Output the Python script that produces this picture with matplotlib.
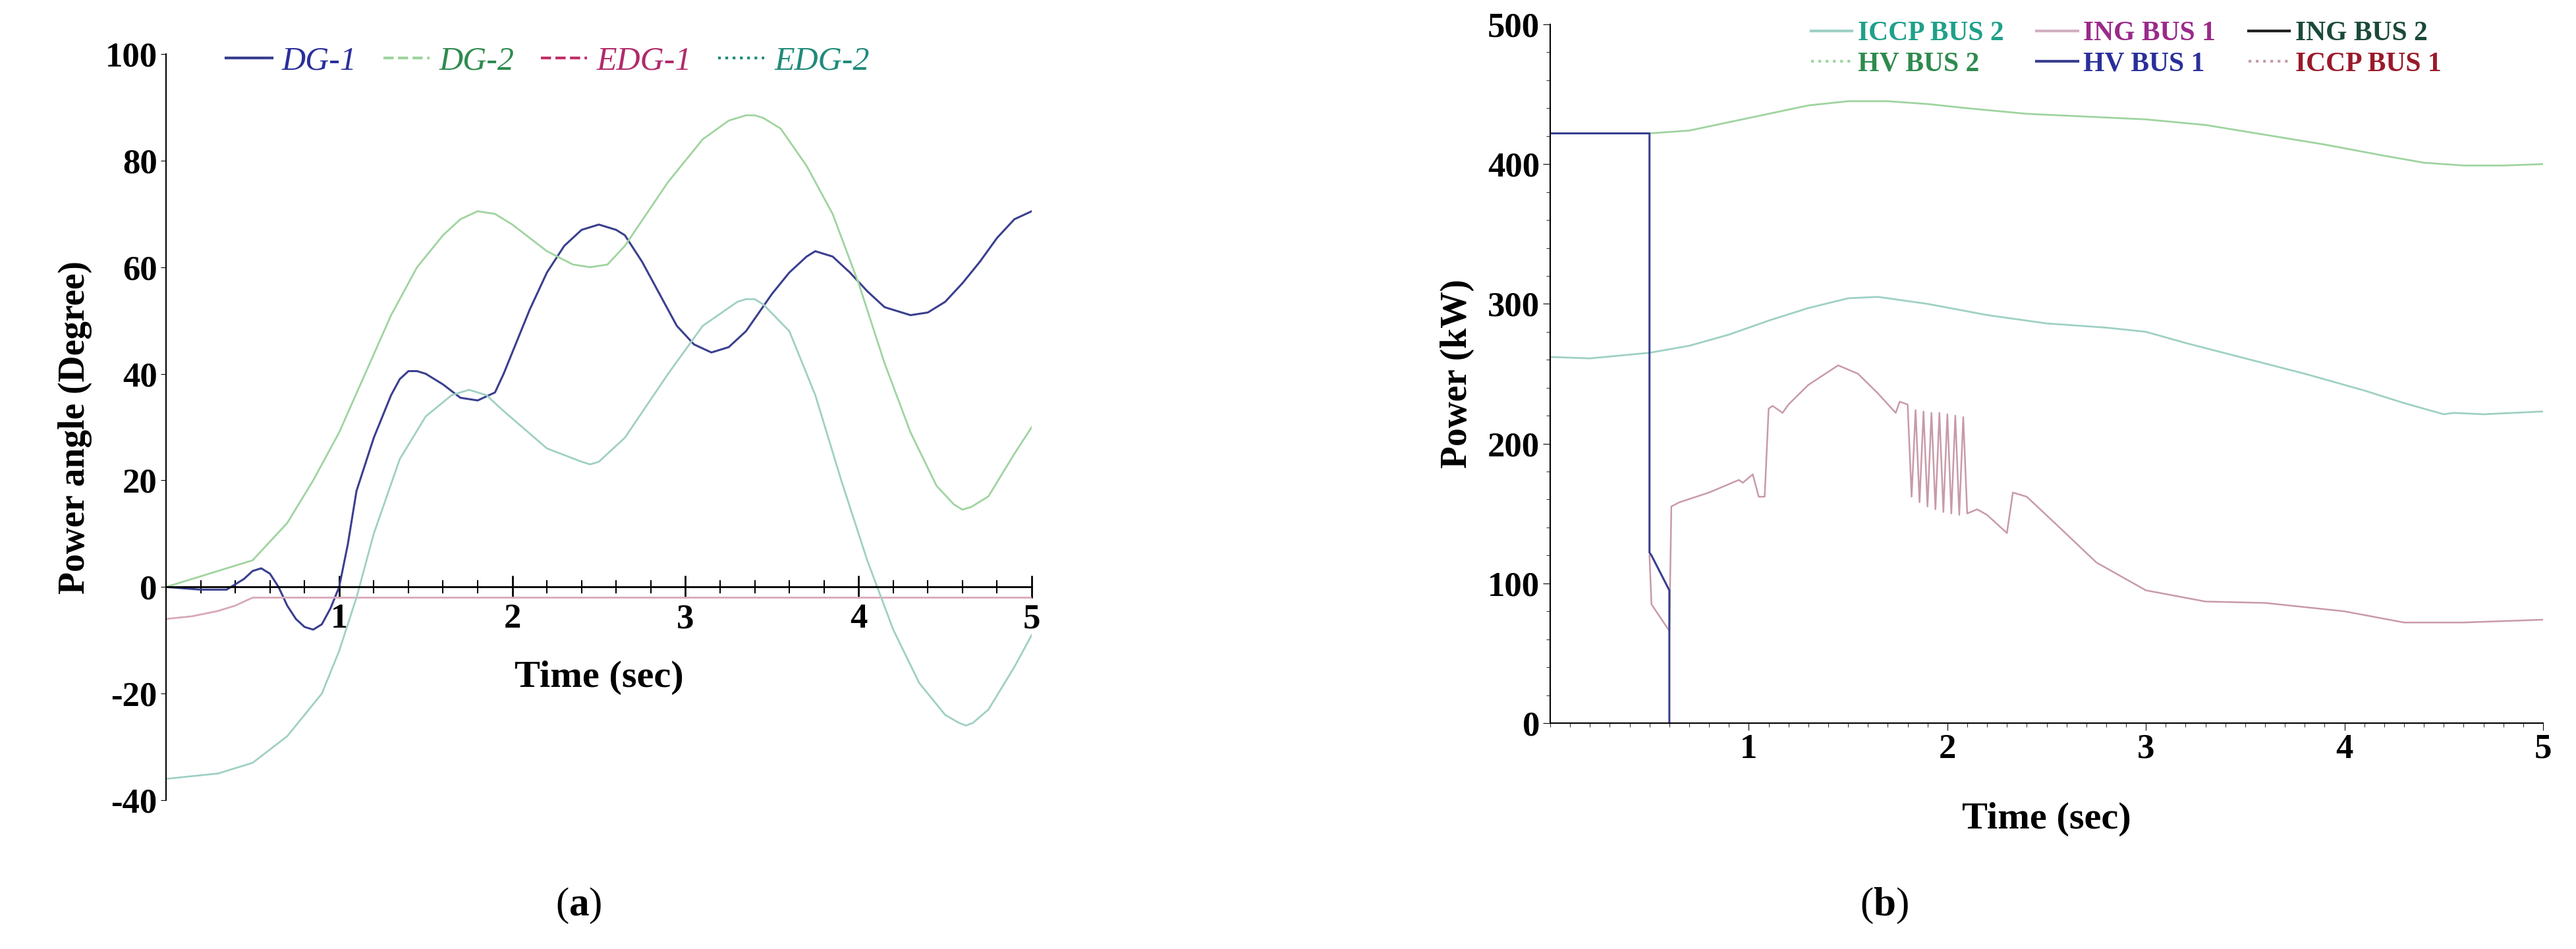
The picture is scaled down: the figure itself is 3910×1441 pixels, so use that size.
import matplotlib
matplotlib.use("Agg")
import matplotlib.pyplot as plt

# ---- panel (a) data ----
dg1_t = [0, 0.2, 0.35, 0.45, 0.5, 0.55, 0.6, 0.65, 0.7, 0.75, 0.8, 0.85, 0.9, 0.95, 1.0, 1.05, 1.1, 1.2, 1.3, 1.35, 1.4, 1.45, 1.5, 1.6, 1.7, 1.8, 1.9, 1.95, 2.0, 2.1, 2.2, 2.3, 2.4, 2.5, 2.6, 2.65, 2.75, 2.85, 2.95, 3.05, 3.15, 3.25, 3.35, 3.5, 3.6, 3.7, 3.75, 3.85, 3.95, 4.05, 4.15, 4.3, 4.4, 4.5, 4.6, 4.7, 4.8, 4.9, 5.0]
dg1_v = [0, -0.5, -0.5, 1.5, 3, 3.5, 2.5, 0, -3.5, -6, -7.5, -8, -7, -4, 0, 8, 18, 28, 36, 39, 40.5, 40.5, 40, 38, 35.5, 35, 36.5, 40, 44, 52, 59, 64, 67, 68, 67, 66, 61, 55, 49, 45.5, 44, 45, 48, 55, 59, 62, 63, 62, 59, 55.5, 52.5, 51, 51.5, 53.5, 57, 61, 65.5, 69, 70.5]
dg2_t = [0, 0.3, 0.5, 0.7, 0.85, 1.0, 1.15, 1.3, 1.45, 1.6, 1.7, 1.8, 1.9, 2.0, 2.2, 2.35, 2.45, 2.55, 2.65, 2.9, 3.1, 3.25, 3.35, 3.4, 3.45, 3.55, 3.7, 3.85, 4.0, 4.15, 4.3, 4.45, 4.55, 4.6, 4.65, 4.75, 4.9, 5.0]
dg2_v = [0, 3, 5, 12, 20, 29, 40, 51, 60, 66, 69, 70.5, 70, 68, 63, 60.5, 60, 60.5, 64, 76, 84, 87.5, 88.5, 88.5, 88, 86, 79, 70, 57, 42, 29, 19, 15.5, 14.5, 15, 17, 25, 30]
edg1_t = [0, 0.15, 0.3, 0.4, 0.5, 1.0, 2.0, 3.0, 4.0, 5.0]
edg1_v = [-6, -5.5, -4.5, -3.5, -2, -2, -2, -2, -2, -2]
edg2_t = [0, 0.3, 0.5, 0.7, 0.9, 1.0, 1.1, 1.2, 1.35, 1.5, 1.65, 1.75, 1.85, 1.95, 2.2, 2.4, 2.45, 2.5, 2.65, 2.9, 3.1, 3.3, 3.35, 3.4, 3.45, 3.6, 3.75, 3.9, 4.05, 4.2, 4.35, 4.5, 4.58, 4.62, 4.66, 4.75, 4.9, 5.0]
edg2_v = [-36, -35, -33, -28, -20, -12, -2, 10, 24, 32, 36, 37, 36, 33, 26, 23.5, 23, 23.5, 28, 40, 49, 53.5, 54, 54, 53, 48, 36, 20, 5, -8, -18, -24, -25.5, -26, -25.5, -23, -15, -9]

# ---- panel (b) data ----
hv1_t = [0, 0.5, 0.5, 0.51, 0.6, 0.6]
hv1_v = [422, 422, 122, 120, 95, 0]
hv2_t = [0.5, 0.7, 0.9, 1.1, 1.3, 1.5, 1.7, 1.9, 2.1, 2.4, 2.7, 3.0, 3.3, 3.6, 3.9, 4.2, 4.4, 4.6, 4.8, 5.0]
hv2_v = [422, 424, 430, 436, 442, 445, 445, 443, 440, 436, 434, 432, 428, 421, 414, 406, 401, 399, 399, 400]
iccp2_t = [0, 0.2, 0.5, 0.7, 0.9, 1.1, 1.3, 1.5, 1.65, 1.9, 2.2, 2.5, 2.8, 3.0, 3.2, 3.5, 3.8, 4.1, 4.3, 4.5, 4.55, 4.7, 5.0]
iccp2_v = [262, 261, 265, 270, 278, 288, 297, 304, 305, 300, 292, 286, 283, 280, 272, 261, 250, 238, 229, 221, 222, 221, 223]
iccp1_t = [0.5, 0.51, 0.6, 0.61, 0.65, 0.8, 0.95, 0.97, 1.02, 1.05, 1.08, 1.1, 1.12, 1.17, 1.2, 1.3, 1.45, 1.55, 1.65, 1.74, 1.76, 1.8,
           1.82, 1.84, 1.86, 1.88, 1.90, 1.92, 1.94, 1.96, 1.98, 2.00, 2.02, 2.04, 2.06, 2.08, 2.1,
           2.15, 2.2, 2.3, 2.33, 2.4, 2.55, 2.75, 3.0, 3.3, 3.6, 4.0, 4.3, 4.6, 5.0]
iccp1_v = [120, 85, 66, 155, 158, 165, 174, 172, 178, 162, 162, 225, 227, 222, 228, 242, 256, 250, 236, 222, 230, 228,
           162, 224, 158, 223, 155, 222, 153, 222, 151, 221, 150, 220, 149, 219, 150,
           153, 149, 136, 165, 162, 142, 115, 95, 87, 86, 80, 72, 72, 74]

serif = ["Liberation Serif", "DejaVu Serif"]
plt.rcParams["font.family"] = serif
plt.rcParams["axes.unicode_minus"] = False
plt.rcParams["mathtext.fontset"] = "custom"
plt.rcParams["mathtext.rm"] = "Liberation Serif"
plt.rcParams["mathtext.bf"] = "Liberation Serif:bold"

fig = plt.figure(figsize=(39.1, 14.41), dpi=100)

# ---------- (a) ----------
ax1 = fig.add_axes([252/3910, 1 - 1215/1441, (1566-252)/3910, (1215-82)/1441])
ax1.plot(dg1_t, dg1_v, color="#3a3f8f", lw=2.2)
ax1.plot(dg2_t, dg2_v, color="#9fd49f", lw=2.0)
ax1.plot(edg1_t, edg1_v, color="#d8a8b8", lw=2.0)
ax1.plot(edg2_t, edg2_v, color="#9fd0c4", lw=2.0)
ax1.set_xlim(0, 5)
ax1.set_ylim(-40, 100)
for s in ["top", "right"]:
    ax1.spines[s].set_visible(False)
ax1.spines["bottom"].set_position(("data", 0))
ax1.spines["left"].set_linewidth(1.5)
ax1.spines["bottom"].set_linewidth(2)
ax1.set_xticks([1, 2, 3, 4, 5])
ax1.set_xticks([i * 0.2 for i in range(26)], minor=True)
ax1.tick_params(axis="x", which="major", direction="inout", length=24, width=2, labelsize=38, pad=6)
ax1.tick_params(axis="x", which="minor", direction="inout", length=14, width=1.5)
ax1.set_yticks([-40, -20, 0, 20, 40, 60, 80, 100])
ax1.tick_params(axis="y", which="major", length=6, labelsize=38)
for lab in ax1.get_xticklabels() + ax1.get_yticklabels():
    lab.set_fontweight("bold")
ax1.set_ylabel("Power angle (Degree)", fontsize=40, fontweight="bold", labelpad=14)
ax1.text(2.5, -17, "Time (sec)", ha="center", va="center", fontsize=42, fontweight="bold")
ax1.legend(handles=[
    plt.Line2D([], [], color="#3a3f8f", lw=3, ls="-"),
    plt.Line2D([], [], color="#9fd49f", lw=3, ls="--"),
    plt.Line2D([], [], color="#c0306a", lw=3, ls="--"),
    plt.Line2D([], [], color="#1f8a7a", lw=3, ls=":"),
], labels=["DG-1", "DG-2", "EDG-1", "EDG-2"], ncol=4, loc="upper left",
    bbox_to_anchor=(0.035, 1.05), frameon=False, handlelength=1.4, columnspacing=0.8,
    handletextpad=0.3, prop={"family": serif, "style": "italic", "size": 36})
leg = ax1.get_legend()
for t, c in zip(leg.get_texts(), ["#2a2f9a", "#2e8b4e", "#b02a6a", "#1f8a7a"]):
    t.set_color(c)

# ---------- (b) ----------
ax2 = fig.add_axes([2353/3910, 1 - 1098/1441, (3860-2353)/3910, (1098-37)/1441])
ax2.plot(hv2_t, hv2_v, color="#9fd49f", lw=2.0)
ax2.plot(iccp2_t, iccp2_v, color="#9fd0c4", lw=2.0)
ax2.plot(iccp1_t, iccp1_v, color="#c89aa8", lw=1.8)
ax2.plot(hv1_t, hv1_v, color="#3a3f8f", lw=2.2)
ax2.set_xlim(0, 5)
ax2.set_ylim(0, 500)
for s in ["top", "right"]:
    ax2.spines[s].set_visible(False)
ax2.spines["left"].set_linewidth(1.5)
ax2.spines["bottom"].set_linewidth(1.5)
ax2.set_xticks([1, 2, 3, 4, 5])
ax2.set_xticks([i * 0.1 for i in range(51)], minor=True)
ax2.set_yticks([0, 100, 200, 300, 400, 500])
ax2.set_yticks(list(range(0, 501, 20)), minor=True)
ax2.tick_params(axis="both", which="major", length=8, labelsize=38)
ax2.tick_params(axis="both", which="minor", length=4)
for lab in ax2.get_xticklabels() + ax2.get_yticklabels():
    lab.set_fontweight("bold")
ax2.set_ylabel("Power (kW)", fontsize=40, fontweight="bold", labelpad=14)
ax2.set_xlabel("Time (sec)", fontsize=42, fontweight="bold", labelpad=40)
# column-major order so rows read: ICCP2, ING1, ING2 / HV2, HV1, ICCP1
leg_items = [("ICCP BUS 2", "#9fd0c4", "-", "#1fa08a"), ("HV BUS 2", "#9fd49f", ":", "#2e8b4e"),
             ("ING BUS 1", "#d0b0c0", "-", "#9a2a8a"), ("HV BUS 1", "#3a3f8f", "-", "#2a2f9a"),
             ("ING BUS 2", "#222222", "-", "#1a4a3a"), ("ICCP BUS 1", "#c89aa8", ":", "#9a1a2a")]
leg2 = ax2.legend(handles=[plt.Line2D([], [], color=c, lw=3, ls=ls) for _, c, ls, _ in leg_items],
                  labels=[n for n, _, _, _ in leg_items], ncol=3, loc="upper center",
                  bbox_to_anchor=(0.58, 1.04), frameon=False, handlelength=1.5, columnspacing=1.2,
                  handletextpad=0.2, labelspacing=0.2,
                  prop={"family": serif, "weight": "bold", "size": 30})
for t, (_, _, _, tc) in zip(leg2.get_texts(), leg_items):
    t.set_color(tc)

# captions
fig.text(0.2245, 1 - 1375/1441, r"($\mathbf{a}$)", ha="center", va="center", fontsize=44)
fig.text(0.7315, 1 - 1375/1441, r"($\mathbf{b}$)", ha="center", va="center", fontsize=44)

fig.savefig("out.png", dpi=100)
